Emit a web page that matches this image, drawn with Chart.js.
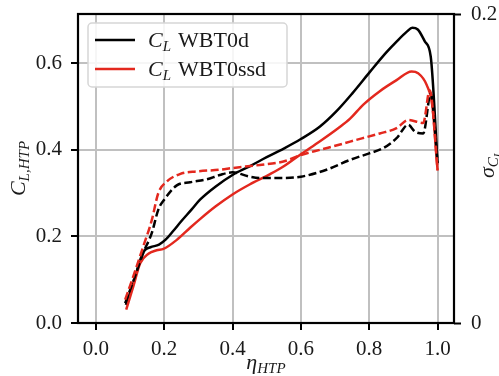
<!DOCTYPE html>
<html>
<head>
<meta charset="utf-8">
<script src="https://cdn.jsdelivr.net/npm/chart.js@4.4.0/dist/chart.umd.min.js"></script>
<style>
  html, body { margin: 0; padding: 0; background: #ffffff; }
  #wrap { width: 499px; height: 376px; }
</style>
</head>
<body>
<div id="wrap"><canvas id="c" width="499" height="376"></canvas></div>
<script>
// ---- data ----
const eta_WBT0d = [0.088, 0.110, 0.130, 0.142, 0.160, 0.185, 0.205, 0.227, 0.250, 0.280, 0.305, 0.350, 0.400, 0.450, 0.500, 0.550, 0.600, 0.656, 0.705, 0.750, 0.802, 0.850, 0.880, 0.910, 0.926, 0.942, 0.963, 0.980, 1.000];
const cl_WBT0d  = [0.042, 0.092, 0.146, 0.167, 0.175, 0.181, 0.193, 0.213, 0.235, 0.262, 0.285, 0.315, 0.342, 0.362, 0.383, 0.403, 0.425, 0.454, 0.490, 0.530, 0.580, 0.625, 0.650, 0.673, 0.682, 0.678, 0.650, 0.615, 0.370];

const eta_WBT0ssd = [0.089, 0.110, 0.130, 0.154, 0.178, 0.198, 0.237, 0.276, 0.305, 0.350, 0.400, 0.450, 0.510, 0.550, 0.600, 0.656, 0.709, 0.744, 0.782, 0.830, 0.880, 0.924, 0.943, 0.968, 0.985, 1.000];
const cl_WBT0ssd  = [0.031, 0.085, 0.138, 0.160, 0.168, 0.171, 0.192, 0.220, 0.240, 0.269, 0.297, 0.320, 0.344, 0.362, 0.390, 0.420, 0.450, 0.472, 0.504, 0.535, 0.561, 0.581, 0.577, 0.550, 0.500, 0.352];

const eta_sig_WBT0d = [0.086, 0.115, 0.139, 0.164, 0.183, 0.203, 0.237, 0.276, 0.325, 0.363, 0.400, 0.450, 0.480, 0.540, 0.600, 0.675, 0.744, 0.800, 0.841, 0.880, 0.914, 0.934, 0.958, 0.980, 1.000];
const sig_WBT0d     = [0.0129, 0.0303, 0.0454, 0.0583, 0.0734, 0.0807, 0.0891, 0.0911, 0.0930, 0.0958, 0.0975, 0.0947, 0.0939, 0.0939, 0.0947, 0.0992, 0.1056, 0.1098, 0.1132, 0.1196, 0.1283, 0.1238, 0.1227, 0.1485, 0.1034];

const eta_sig_WBT0ssd = [0.086, 0.110, 0.139, 0.164, 0.183, 0.208, 0.246, 0.295, 0.363, 0.400, 0.480, 0.549, 0.600, 0.656, 0.709, 0.744, 0.831, 0.880, 0.914, 0.958, 0.977, 1.000];
const sig_WBT0ssd     = [0.0151, 0.0303, 0.0496, 0.0667, 0.0841, 0.0916, 0.0964, 0.0981, 0.0992, 0.1003, 0.1023, 0.1045, 0.1087, 0.1121, 0.1152, 0.1174, 0.1227, 0.1261, 0.1314, 0.1295, 0.1507, 0.0992];

const xTicks = [0.0, 0.2, 0.4, 0.6, 0.8, 1.0];
const yLeftTicks = [0.0, 0.2, 0.4, 0.6];
const yRightTicks = [0, 0.2];
const yRightTickLabels = ['0', '0.2'];
const seriesLabels = ['WBT0d', 'WBT0ssd'];

// ---- helpers ----
const toPts = (xs, ys) => xs.map((x, i) => ({ x: x, y: ys[i] }));
const FONT = '"Liberation Serif", "Times New Roman", serif';
const TXT = '#1a1a1a';
const BLACK = '#000000';
const RED = '#e3281e';

function drawRich(ctx, parts, x, y, angle, align) {
  ctx.save();
  ctx.translate(x, y);
  ctx.rotate(angle);
  ctx.textBaseline = 'alphabetic';
  ctx.textAlign = 'left';
  ctx.fillStyle = TXT;
  let total = 0;
  parts.forEach(p => { ctx.font = p.font; p.w = ctx.measureText(p.text).width + (p.gap || 0); total += p.w; });
  let cx = align === 'center' ? -total / 2 : 0;
  parts.forEach(p => { ctx.font = p.font; ctx.fillText(p.text, cx, p.dy || 0); cx += p.w; });
  ctx.restore();
}

const zeroPad = s => { s.paddingTop = 0; s.paddingBottom = 0; s.paddingLeft = 0; s.paddingRight = 0; };

const framePlugin = {
  id: 'frameAndText',
  afterDatasetsDraw(chart) {
    const ctx = chart.ctx;
    const a = chart.chartArea;
    // frame (spines)
    ctx.save();
    ctx.strokeStyle = '#000';
    ctx.lineWidth = 2.2;
    ctx.strokeRect(a.left, a.top, a.right - a.left, a.bottom - a.top);
    ctx.restore();

    // legend
    const ds = chart.data.datasets;
    const bx = a.left + 10, by = a.top + 9, bw = 199, bh = 64;
    ctx.save();
    ctx.beginPath();
    if (ctx.roundRect) ctx.roundRect(bx, by, bw, bh, 4); else ctx.rect(bx, by, bw, bh);
    ctx.fillStyle = 'rgba(255,255,255,0.85)';
    ctx.fill();
    ctx.strokeStyle = '#d6d6d6';
    ctx.lineWidth = 1.5;
    ctx.stroke();
    ctx.restore();
    const legendItems = ds.filter(d => d.showInLegend);
    legendItems.forEach((d, i) => {
      const ly = by + 17 + i * 29;
      ctx.save();
      ctx.strokeStyle = d.borderColor;
      ctx.lineWidth = 2.5;
      ctx.beginPath();
      ctx.moveTo(bx + 7, ly);
      ctx.lineTo(bx + 47, ly);
      ctx.stroke();
      ctx.restore();
      drawRich(ctx, [
        { text: 'C', font: 'italic 22px ' + FONT },
        { text: 'L', font: 'italic 15px ' + FONT, dy: 4, gap: 7 },
        { text: d.label, font: '22px ' + FONT }
      ], bx + 60, ly + 7, 0, 'left');
    });

    // axis titles
    drawRich(ctx, [
      { text: 'C', font: 'italic 22px ' + FONT },
      { text: 'L,HTP', font: 'italic 15px ' + FONT, dy: 4 }
    ], 25, (a.top + a.bottom) / 2, -Math.PI / 2, 'center');
    drawRich(ctx, [
      { text: 'σ', font: 'italic 22px ' + FONT },
      { text: 'C', font: 'italic 15px ' + FONT, dy: 4 },
      { text: 'L', font: 'italic 11px ' + FONT, dy: 7 }
    ], 494, (a.top + a.bottom) / 2 - 4, -Math.PI / 2, 'center');
    drawRich(ctx, [
      { text: 'η', font: 'italic 22px ' + FONT },
      { text: 'HTP', font: 'italic 15px ' + FONT, dy: 4 }
    ], (a.left + a.right) / 2, 369, 0, 'center');
  }
};

const gridColor = '#c0c0c0';
const LW = 2.5;
const DASH = [8, 3.5];
const line = (label, pts, axis, color, dash, order, leg) => ({
  label: label, data: pts, yAxisID: axis, borderColor: color, borderWidth: LW,
  borderDash: dash, pointRadius: 0, cubicInterpolationMode: 'monotone', order: order, showInLegend: leg
});

new Chart(document.getElementById('c'), {
  type: 'line',
  data: {
    datasets: [
      line(seriesLabels[0], toPts(eta_WBT0d, cl_WBT0d), 'y', BLACK, [], 3, true),
      line(seriesLabels[1], toPts(eta_WBT0ssd, cl_WBT0ssd), 'y', RED, [], 2, true),
      line('sigma ' + seriesLabels[0], toPts(eta_sig_WBT0d, sig_WBT0d), 'y2', BLACK, DASH, 1, false),
      line('sigma ' + seriesLabels[1], toPts(eta_sig_WBT0ssd, sig_WBT0ssd), 'y2', RED, DASH, 0, false)
    ]
  },
  options: {
    responsive: false,
    animation: false,
    devicePixelRatio: 1,
    layout: { padding: { top: 14, left: 0, right: 0, bottom: 0 } },
    plugins: { legend: { display: false }, tooltip: { enabled: false }, title: { display: false } },
    scales: {
      x: {
        type: 'linear', position: 'bottom', min: -0.052, max: 1.048,
        afterBuildTicks: s => { s.ticks = xTicks.map(v => ({ value: v })); },
        afterFit: s => { s.height = 53; zeroPad(s); },
        ticks: { callback: v => Number(v).toFixed(1), font: { family: FONT, size: 21 }, color: TXT, padding: 7, maxRotation: 0, autoSkip: false },
        grid: { color: gridColor, lineWidth: 2, tickColor: '#000', tickWidth: 2, tickLength: 7, drawTicks: true },
        border: { display: false }
      },
      y: {
        type: 'linear', position: 'left', min: 0, max: 0.7138,
        afterBuildTicks: s => { s.ticks = yLeftTicks.map(v => ({ value: v })); },
        afterFit: s => { s.width = 78; zeroPad(s); },
        ticks: { callback: v => Number(v).toFixed(1), font: { family: FONT, size: 21 }, color: TXT, padding: 9, autoSkip: false },
        grid: { color: gridColor, lineWidth: 2, tickColor: '#000', tickWidth: 2, tickLength: 7, drawTicks: true },
        border: { display: false }
      },
      y2: {
        type: 'linear', position: 'right', min: 0, max: 0.2,
        afterBuildTicks: s => { s.ticks = yRightTicks.map(v => ({ value: v })); },
        afterFit: s => { s.width = 45; zeroPad(s); },
        ticks: { callback: (v, i) => yRightTickLabels[i], font: { family: FONT, size: 21 }, color: TXT, padding: 10, autoSkip: false },
        grid: { drawOnChartArea: false, tickColor: '#000', tickWidth: 2, tickLength: 7, drawTicks: true },
        border: { display: false }
      }
    }
  },
  plugins: [framePlugin]
});
</script>
</body>
</html>
